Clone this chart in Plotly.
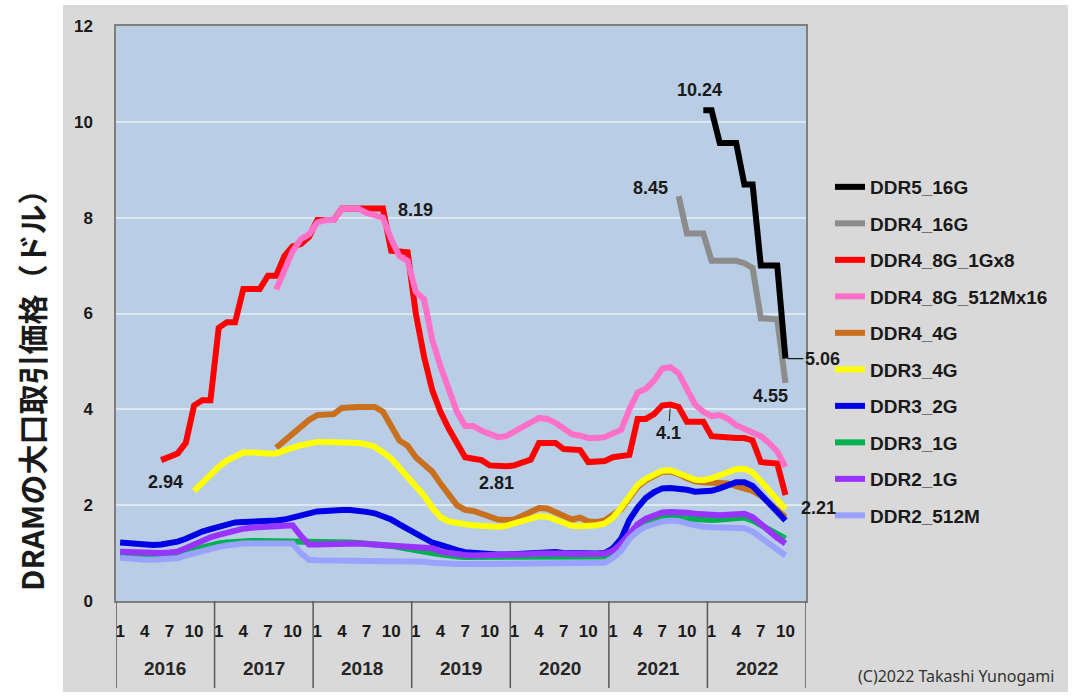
import plotly.graph_objects as go

# ---------------- data ----------------
years = [2016, 2017, 2018, 2019, 2020, 2021, 2022]
months = list(range(1, 13))
month_ticks = [1, 4, 7, 10]
N = None

ddr5_16g = ([N] * 12 * 5 +
            [N] * 11 + [10.24] +
            [10.24, 9.56, 9.56, 9.56, 8.69, 8.69, 7.0, 7.0, 7.0, 5.06, N, N])
ddr4_16g = ([N] * 12 * 5 +
            [N] * 8 + [8.45, 7.67, 7.67, 7.67] +
            [7.1, 7.1, 7.1, 7.1, 7.05, 6.95, 5.9, 5.9, 5.88, 4.55, N, N])
ddr4_8g_1gx8 = ([N] * 5 + [2.94, 3.0, 3.08, 3.3, 4.08, 4.19, 4.19] +
                [5.7, 5.82, 5.82, 6.51, 6.51, 6.51, 6.79, 6.79, 7.2, 7.4, 7.45, 7.6] +
                [7.95, 7.95, 7.95, 8.19, 8.19, 8.19, 8.19, 8.19, 8.19, 7.31, 7.28, 7.28] +
                [6.0, 5.1, 4.4, 3.95, 3.6, 3.3, 3.0, 2.97, 2.94, 2.83, 2.81, 2.81] +
                [2.83, 2.88, 2.95, 3.3, 3.3, 3.3, 3.17, 3.15, 3.15, 2.9, 2.9, 2.92] +
                [3.0, 3.03, 3.05, 3.8, 3.8, 3.9, 4.08, 4.1, 4.05, 3.74, 3.74, 3.74] +
                [3.44, 3.42, 3.42, 3.4, 3.4, 3.35, 2.9, 2.88, 2.87, 2.21, N, N])
ddr4_8g_512mx16 = ([N] * 12 +
                   [N] * 7 + [6.5, 6.9, 7.3, 7.55, 7.65] +
                   [7.9, 7.95, 7.95, 8.19, 8.19, 8.19, 8.1, 8.05, 8.0, 7.55, 7.2, 7.1] +
                   [6.45, 6.3, 5.45, 4.9, 4.4, 3.95, 3.65, 3.65, 3.55, 3.5, 3.42, 3.44] +
                   [3.53, 3.62, 3.72, 3.82, 3.8, 3.72, 3.6, 3.48, 3.45, 3.4, 3.4, 3.42] +
                   [3.5, 3.57, 4.0, 4.35, 4.43, 4.6, 4.85, 4.88, 4.75, 4.45, 4.1, 3.95] +
                   [3.86, 3.88, 3.8, 3.67, 3.6, 3.54, 3.44, 3.3, 3.12, 2.8, N, N])
ddr4_4g = ([N] * 12 +
           [N] * 7 + [3.2, 3.35, 3.5, 3.63, 3.78] +
           [3.88, 3.88, 3.9, 4.03, 4.05, 4.05, 4.05, 4.05, 3.95, 3.62, 3.35, 3.24] +
           [3.0, 2.85, 2.7, 2.45, 2.2, 2.0, 1.9, 1.88, 1.82, 1.76, 1.7, 1.69] +
           [1.7, 1.78, 1.85, 1.94, 1.93, 1.85, 1.76, 1.7, 1.74, 1.66, 1.65, 1.68] +
           [1.8, 1.92, 2.15, 2.38, 2.52, 2.62, 2.7, 2.7, 2.65, 2.56, 2.5, 2.48] +
           [2.48, 2.46, 2.45, 2.4, 2.35, 2.3, 2.2, 2.05, 1.9, 1.75, N, N])
ddr3_4g = ([N] * 9 + [2.3, 2.47, 2.63] +
           [2.8, 2.93, 3.03, 3.1, 3.1, 3.08, 3.08, 3.08, 3.15, 3.2, 3.25, 3.3] +
           [3.32, 3.32, 3.32, 3.32, 3.3, 3.3, 3.27, 3.22, 3.1, 2.97, 2.78, 2.6] +
           [2.4, 2.2, 1.95, 1.75, 1.66, 1.62, 1.6, 1.58, 1.56, 1.55, 1.55, 1.57] +
           [1.62, 1.69, 1.72, 1.77, 1.76, 1.7, 1.62, 1.57, 1.56, 1.56, 1.58, 1.62] +
           [1.74, 1.95, 2.2, 2.42, 2.55, 2.65, 2.72, 2.73, 2.68, 2.6, 2.53, 2.52] +
           [2.56, 2.62, 2.68, 2.75, 2.76, 2.68, 2.5, 2.32, 2.12, 1.92, N, N])
ddr3_2g = ([1.22, 1.2, 1.18, 1.17, 1.17, 1.18, 1.2, 1.24, 1.3, 1.38, 1.45, 1.5] +
           [1.55, 1.6, 1.64, 1.65, 1.65, 1.65, 1.66, 1.68, 1.7, 1.75, 1.8, 1.85] +
           [1.87, 1.88, 1.9, 1.9, 1.9, 1.89, 1.86, 1.83, 1.78, 1.7, 1.6, 1.5] +
           [1.4, 1.3, 1.22, 1.17, 1.1, 1.06, 1.02, 1.0, 0.98, 0.97, 0.97, 0.97] +
           [0.98, 0.99, 1.0, 1.01, 1.02, 1.02, 1.0, 0.99, 0.98, 0.98, 0.99, 1.0] +
           [1.1, 1.3, 1.69, 1.95, 2.15, 2.27, 2.35, 2.36, 2.35, 2.32, 2.28, 2.28] +
           [2.3, 2.35, 2.42, 2.48, 2.48, 2.4, 2.22, 2.05, 1.88, 1.68, N, N])
ddr3_1g = ([0.95, 0.94, 0.93, 0.93, 0.93, 0.94, 0.95, 0.98, 1.03, 1.08, 1.13, 1.17] +
           [1.2, 1.22, 1.24, 1.25, 1.25, 1.25, 1.25, 1.25, 1.25, 1.25, 1.24, 1.23] +
           [1.22, 1.22, 1.22, 1.22, 1.22, 1.21, 1.2, 1.19, 1.17, 1.15, 1.12, 1.1] +
           [1.07, 1.03, 1.0, 0.97, 0.95, 0.93, 0.92, 0.92, 0.91, 0.91, 0.91, 0.91] +
           [0.92, 0.92, 0.93, 0.93, 0.94, 0.94, 0.93, 0.92, 0.92, 0.92, 0.92, 0.93] +
           [1.0, 1.15, 1.35, 1.52, 1.62, 1.7, 1.74, 1.75, 1.74, 1.72, 1.7, 1.69] +
           [1.69, 1.7, 1.72, 1.74, 1.74, 1.68, 1.58, 1.48, 1.38, 1.3, N, N])
ddr2_1g = ([1.03, 1.02, 1.0, 0.99, 0.99, 1.0, 1.01, 1.03, 1.1, 1.18, 1.26, 1.33] +
           [1.38, 1.43, 1.48, 1.51, 1.53, 1.55, 1.55, 1.56, 1.57, 1.58, 1.36, 1.18] +
           [1.18, 1.19, 1.2, 1.2, 1.2, 1.2, 1.19, 1.18, 1.17, 1.17, 1.17, 1.16] +
           [1.14, 1.13, 1.1, 1.03, 1.0, 0.97, 0.96, 0.95, 0.95, 0.95, 0.95, 0.95] +
           [0.96, 0.97, 0.98, 0.99, 1.0, 1.0, 0.99, 0.98, 0.97, 0.97, 0.98, 0.99] +
           [1.05, 1.2, 1.4, 1.6, 1.72, 1.8, 1.85, 1.86, 1.86, 1.84, 1.82, 1.8] +
           [1.79, 1.79, 1.8, 1.82, 1.82, 1.75, 1.6, 1.45, 1.32, 1.2, N, N])
ddr2_512m = ([0.9, 0.88, 0.87, 0.86, 0.86, 0.86, 0.87, 0.89, 0.95, 1.0, 1.05, 1.1] +
             [1.13, 1.16, 1.19, 1.2, 1.2, 1.2, 1.2, 1.2, 1.2, 1.2, 1.0, 0.86] +
             [0.85, 0.85, 0.85, 0.85, 0.85, 0.85, 0.85, 0.85, 0.85, 0.85, 0.84, 0.84] +
             [0.83, 0.82, 0.8, 0.78, 0.77, 0.77, 0.77, 0.77, 0.77, 0.77, 0.77, 0.77] +
             [0.78, 0.78, 0.79, 0.8, 0.8, 0.8, 0.79, 0.78, 0.78, 0.78, 0.79, 0.8] +
             [0.9, 1.05, 1.3, 1.45, 1.55, 1.62, 1.66, 1.68, 1.67, 1.62, 1.58, 1.55] +
             [1.54, 1.53, 1.53, 1.53, 1.52, 1.45, 1.32, 1.18, 1.05, 0.95, N, N])

series_names = ["DDR5_16G", "DDR4_16G", "DDR4_8G_1Gx8", "DDR4_8G_512Mx16", "DDR4_4G",
                "DDR3_4G", "DDR3_2G", "DDR3_1G", "DDR2_1G", "DDR2_512M"]
series_values = [ddr5_16g, ddr4_16g, ddr4_8g_1gx8, ddr4_8g_512mx16, ddr4_4g,
                 ddr3_4g, ddr3_2g, ddr3_1g, ddr2_1g, ddr2_512m]
series_colors = ["#000000", "#8c8c8c", "#ff0000", "#ff70c8", "#c8701e",
                 "#ffff00", "#0000e6", "#00b050", "#9933ff", "#99a3ff"]

# labelled values: (series, year, month, text)
labels = [("DDR5_16G", 2021, 12, "10.24"), ("DDR4_16G", 2021, 9, "8.45"),
          ("DDR4_8G_1Gx8", 2018, 9, "8.19"), ("DDR4_8G_1Gx8", 2016, 6, "2.94"),
          ("DDR4_8G_1Gx8", 2019, 11, "2.81"), ("DDR4_8G_1Gx8", 2021, 8, "4.1"),
          ("DDR4_16G", 2022, 10, "4.55"), ("DDR5_16G", 2022, 10, "5.06"),
          ("DDR4_8G_1Gx8", 2022, 10, "2.21")]
label_offsets = {"10.24": (-4, 20), "8.45": (-28, 8), "8.19": (33, -1), "2.94": (4, -22),
                 "2.81": (-1, -17), "4.55": (-15, -13), "2.21": (33, -13)}

# ---------------- layout geometry ----------------
W, H = 1080, 698
L, R, T, B = 116, 806, 26, 601
PW, PH = R - L, B - T


def px(x):
    return (x - L) / PW


def py(y):
    return (B - y) / PH


x_idx = [(y - years[0]) * 12 + (m - 1) for y in years for m in months]

fig = go.Figure()
draw_order = [1, 0, 2, 3, 4, 5, 6, 7, 8, 9]
for k in draw_order:
    fig.add_trace(go.Scatter(
        x=x_idx, y=series_values[k], name="<b>%s</b>" % series_names[k], mode="lines",
        line=dict(color=series_colors[k], width=6),
        legendrank=k + 1, legendgroup=series_names[k],
        connectgaps=False, hoverinfo="skip"))

lab_font = dict(family="Liberation Sans, Arial", size=18, color="#1a1a1a")
for name, yr, mo, txt in labels:
    k = series_names.index(name)
    i = (yr - years[0]) * 12 + (mo - 1)
    yv = series_values[k][i]
    if txt == "5.06":
        fig.add_annotation(x=i, y=yv, text="<b>%s</b>" % txt, showarrow=True,
                           arrowhead=0, arrowwidth=1.2, arrowcolor="#1a1a1a",
                           ax=37, ay=0, font=lab_font, standoff=2)
    elif txt == "4.1":
        fig.add_annotation(x=i, y=yv, text="<b>%s</b>" % txt, showarrow=True,
                           arrowhead=0, arrowwidth=1, arrowcolor="#1a1a1a",
                           ax=-2, ay=28, font=lab_font, standoff=4)
    else:
        dx, dy = label_offsets[txt]
        fig.add_annotation(x=i, y=yv, text="<b>%s</b>" % txt, showarrow=False,
                           xshift=dx, yshift=dy, font=lab_font)

# year labels and separators
for j, yr in enumerate(years):
    fig.add_annotation(x=j * 12 + 5.5, y=py(668), xref="x", yref="paper",
                       xanchor="center", yanchor="middle",
                       text="<b>%d</b>" % yr, showarrow=False,
                       font=dict(family="Liberation Sans, Arial", size=19, color="#262626"))
for j in range(len(years) + 1):
    fig.add_shape(type="line", xref="x", yref="paper", x0=j * 12 - 0.5, x1=j * 12 - 0.5,
                  y0=0, y1=py(688), line=dict(color="#595959", width=1.5))

# white border around grey chart area
for (x0, y0, x1, y1) in [(0, 0, 63, H), (0, 0, W, 5), (1068, 0, W, H), (0, 692, W, H)]:
    fig.add_shape(type="rect", xref="paper", yref="paper", x0=px(x0), x1=px(x1),
                  y0=py(y1), y1=py(y0), line=dict(width=0), fillcolor="white", layer="below")

# y-axis title
fig.add_annotation(x=px(31), y=py(383), xref="paper", yref="paper",
                   xanchor="center", yanchor="middle",
                   text="<b>DRAMの大口取引価格（ドル）</b>", textangle=-90, showarrow=False,
                   font=dict(family="Noto Sans CJK JP", size=30, color="#1a1a1a"))
# copyright
fig.add_annotation(x=px(956), y=py(676), xref="paper", yref="paper",
                   xanchor="center", yanchor="middle",
                   text="(C)2022 Takashi Yunogami", showarrow=False,
                   font=dict(family="Noto Sans, Lato", size=16, color="#333333"))

tick_vals = [(y - years[0]) * 12 + (m - 1) for y in years for m in month_ticks]
tick_text = ["<b>%d</b>" % m for y in years for m in month_ticks]

fig.update_layout(
    width=W, height=H,
    margin=dict(l=L, r=W - R, t=T, b=H - B, autoexpand=False),
    paper_bgcolor="#d9d9d9", plot_bgcolor="#b9cde5",
    showlegend=True,
    legend=dict(x=px(830), y=py(168), xanchor="left", yanchor="top",
                bgcolor="rgba(0,0,0,0)", traceorder="grouped", tracegroupgap=8.8,
                font=dict(family="Liberation Sans, Arial", size=19, color="#1a1a1a"),
                itemwidth=30),
    xaxis=dict(range=[-0.5, 83.5], tickmode="array", tickvals=tick_vals, ticktext=tick_text,
               showgrid=False, zeroline=False, showline=True, mirror=True,
               linecolor="#7f7f7f", linewidth=1.5, ticks="",
               tickfont=dict(family="Liberation Sans, Arial", size=17, color="#1a1a1a"),
               ticklabelstandoff=14),
    yaxis=dict(range=[0, 12], dtick=2, showgrid=True, gridcolor="#dde8f3", gridwidth=1.5,
               zeroline=False, showline=True, mirror=True, linecolor="#7f7f7f", linewidth=1.5,
               tickfont=dict(family="Liberation Sans, Arial", size=17, color="#1a1a1a"),
               ticklabelstandoff=18, tickprefix="<b>", ticksuffix="</b>"),
)

fig.write_html("out.html")
